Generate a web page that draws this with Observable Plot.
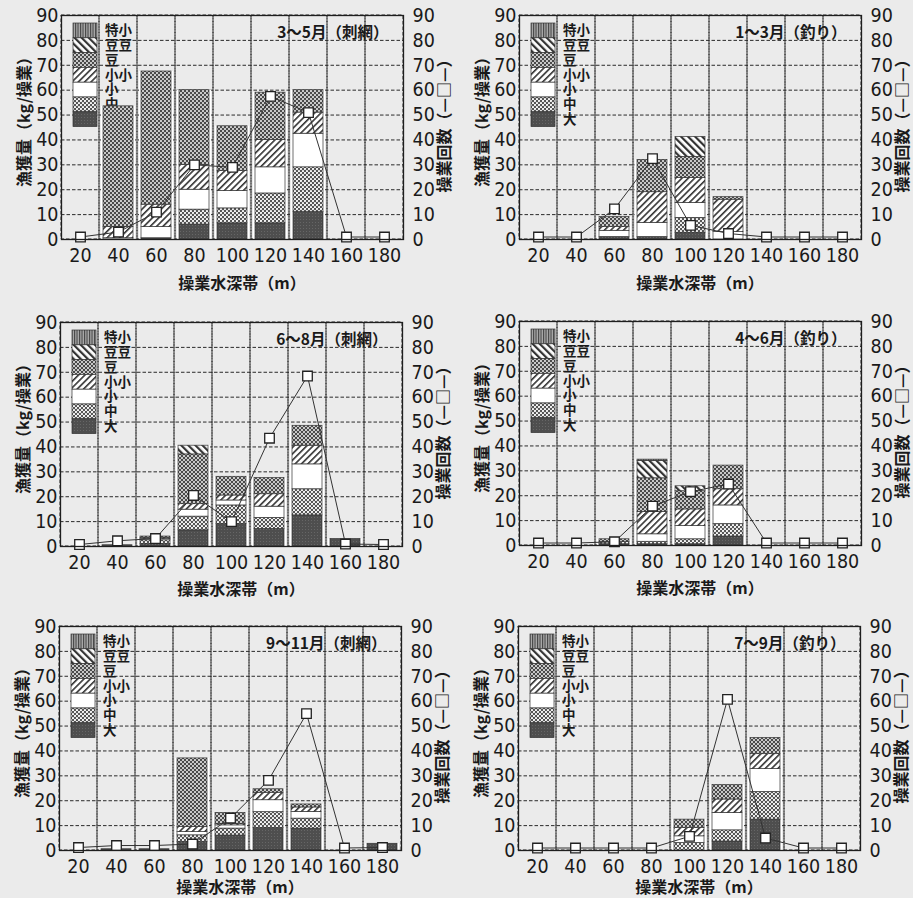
<!DOCTYPE html>
<html><head><meta charset="utf-8">
<script src="https://cdn.jsdelivr.net/npm/d3@7"></script>
<script src="https://cdn.jsdelivr.net/npm/@observablehq/plot@0.6"></script>
<style>
body{margin:0;background:#ebebeb;}
#root{position:relative;width:913px;height:898px;overflow:hidden;background:#ebebeb;}
.panel{position:absolute;width:455px;height:300px;}
.panel svg{position:absolute;left:0;top:0;overflow:visible;}
.t{position:absolute;font-family:'Noto Sans CJK JP',sans-serif;font-size:16px;font-weight:bold;color:#1a1a1a;white-space:nowrap;line-height:1;}
.ty{transform:translate(-50%,-50%) rotate(-90deg);}
.tx{transform:translate(-50%,-50%);}
</style></head>
<body>
<svg width="0" height="0" style="position:absolute">
<defs>
<pattern id="pDai" width="3" height="3" patternUnits="userSpaceOnUse"><rect width="3" height="3" fill="#4e4e4e"/><rect width="1" height="1" fill="#666"/></pattern>
<pattern id="pChu" width="4" height="4" patternUnits="userSpaceOnUse"><rect width="4" height="4" fill="#555"/><circle cx="1" cy="1" r="1.1" fill="#fff"/><circle cx="3" cy="3" r="1.1" fill="#fff"/></pattern>
<pattern id="pSho" width="4" height="4" patternUnits="userSpaceOnUse"><rect width="4" height="4" fill="#fff"/></pattern>
<pattern id="pShosho" width="4.5" height="4.5" patternUnits="userSpaceOnUse" patternTransform="rotate(45)"><rect width="4.5" height="4.5" fill="#fff"/><rect width="1.6" height="4.5" fill="#333"/></pattern>
<pattern id="pMame" width="4" height="4" patternUnits="userSpaceOnUse"><rect width="4" height="4" fill="#4a4a4a"/><circle cx="1" cy="1" r="0.95" fill="#fff"/><circle cx="3" cy="3" r="0.95" fill="#fff"/></pattern>
<pattern id="pMamemame" width="5" height="5" patternUnits="userSpaceOnUse" patternTransform="rotate(-45)"><rect width="5" height="5" fill="#fff"/><rect width="2.2" height="5" fill="#333"/></pattern>
<pattern id="pTokusho" width="2.5" height="4" patternUnits="userSpaceOnUse"><rect width="2.5" height="4" fill="#aaa"/><rect width="1.1" height="4" fill="#444"/></pattern>
</defs>
</svg>
<div id="root"></div>
<script>
// ---- data ----
const depths = [20, 40, 60, 80, 100, 120, 140, 160, 180];
const sizeClasses = ["大", "中", "小", "小小", "豆", "豆豆", "特小"];
const patternFills = ["url(#pDai)", "url(#pChu)", "url(#pSho)", "url(#pShosho)", "url(#pMame)", "url(#pMamemame)", "url(#pTokusho)"];
const yTicks = [0, 10, 20, 30, 40, 50, 60, 70, 80, 90];
const leftTitle = "漁獲量（kg/操業）";
const rightTitle = "操業回数（—□—）";
const xTitle = "操業水深帯（m）";
const panelTitles = ["3〜5月（刺網）", "1〜3月（釣り）", "6〜8月（刺網）", "4〜6月（釣り）", "9〜11月（刺網）", "7〜9月（釣り）"];

// catch per operation (kg), rows in sizeClasses order, columns in depths order
const net35 = [
  [0, 0, 0.5, 6, 6.5, 6.5, 11, 0, 0],
  [0, 0, 0, 6, 6, 12, 18, 0, 0],
  [0, 0.5, 4.5, 8, 7, 10.5, 13.5, 0, 0],
  [0, 4.5, 9, 10, 8, 11, 8.5, 0, 0],
  [0, 48.5, 53.5, 30, 18, 19, 9, 0, 0],
  [0, 0, 0, 0, 0, 0, 0, 0, 0],
  [0, 0, 0, 0, 0, 0, 0, 0, 0]
];
const net35Trips = [1, 3, 11, 30, 29, 57.5, 51, 1, 1];

const line13 = [
  [0, 0, 1, 1, 2.7, 0, 0, 0, 0],
  [0, 0, 0, 0, 6, 0, 0, 0, 0],
  [0, 0, 2.5, 5.7, 6, 3, 0, 0, 0],
  [0, 0, 1.5, 12.3, 10, 13, 0, 0, 0],
  [0, 0, 4, 13, 8.5, 1, 0, 0, 0],
  [0, 0, 0, 0, 8, 0, 0, 0, 0],
  [0, 0, 0, 0, 0, 0, 0, 0, 0]
];
const line13Trips = [1, 1, 12.3, 32.5, 5.7, 2.4, 1, 1, 1];

const net68 = [
  [0, 0.5, 1, 6.5, 9, 7, 12.5, 3, 0],
  [0, 0, 1.5, 5.5, 7.5, 4.5, 10.5, 0, 0],
  [0, 0, 0.5, 2.8, 2, 4.5, 10, 0, 0],
  [0, 0, 0.5, 2.2, 2, 5, 7.5, 0, 0],
  [0, 0, 0.5, 20, 7.5, 6.5, 8, 0, 0],
  [0, 0, 0, 3.5, 0, 0, 0, 0, 0],
  [0, 0, 0, 0, 0, 0, 0, 0, 0]
];
const net68Trips = [0.8, 2.3, 3.2, 20.5, 10, 43.5, 68.5, 1, 0.8];

const line46 = [
  [0, 0, 0.5, 0.5, 0.5, 3.6, 0, 0, 0],
  [0, 0, 1, 1, 2, 5, 0, 0, 0],
  [0, 0, 0, 3, 5.3, 7.5, 0, 0, 0],
  [0, 0, 0, 9, 6.7, 6.5, 0, 0, 0],
  [0, 0, 1, 13.5, 7.3, 9.5, 0, 0, 0],
  [0, 0, 0, 7, 2, 0, 0, 0, 0],
  [0, 0, 0, 0.5, 0, 0, 0, 0, 0]
];
const line46Trips = [1, 1, 1.5, 15.8, 21.6, 24.7, 1, 1, 1];

const net911 = [
  [0, 0.5, 0.5, 3.4, 6, 9, 8.8, 0, 2.7],
  [0, 0, 0, 2.7, 2.8, 6.4, 4, 0, 0],
  [0, 0, 0, 1.3, 1.3, 4.8, 2.7, 0, 0],
  [0, 0, 0, 2, 0.5, 3, 1.8, 0, 0],
  [0, 0, 0, 27.6, 4.5, 1.4, 1.2, 0, 0],
  [0, 0, 0, 0, 0, 0, 0, 0, 0],
  [0, 0, 0, 0, 0, 0, 0, 0, 0]
];
const net911Trips = [1.2, 2, 2, 2.6, 13, 28.2, 55, 1, 1.2];

const line79 = [
  [0, 0, 0, 0, 0, 3.6, 12.4, 0, 0],
  [0, 0, 0, 0, 3, 4.5, 11.1, 0, 0],
  [0, 0, 0, 0, 2.7, 7, 9.2, 0, 0],
  [0, 0, 0, 0, 3.3, 5.4, 6, 0, 0],
  [0, 0, 0, 0, 3.4, 5.8, 6.5, 0, 0],
  [0, 0, 0, 0, 0, 0, 0, 0, 0],
  [0, 0, 0, 0, 0, 0, 0, 0, 0]
];
const line79Trips = [1, 1, 1, 1, 5.7, 60.7, 5, 1, 1];

// ---- layout ----
const panels = [
  {title: panelTitles[0], catchData: net35, trips: net35Trips, left: 0, top: 0, xt: 282},
  {title: panelTitles[1], catchData: line13, trips: line13Trips, left: 458, top: 0, xt: 282},
  {title: panelTitles[2], catchData: net68, trips: net68Trips, left: -1, top: 307, xt: 281},
  {title: panelTitles[3], catchData: line46, trips: line46Trips, left: 458, top: 306, xt: 281},
  {title: panelTitles[4], catchData: net911, trips: net911Trips, left: -2, top: 611, xt: 275},
  {title: panelTitles[5], catchData: line79, trips: line79Trips, left: 457, top: 611, xt: 275}
];

const W = 455, H = 300, ML = 61, MR = 52, MT = 15, MB = 61;
const CJK = "'Noto Sans CJK JP', sans-serif";
const NUM = "'Liberation Sans Narrow', 'Arial Narrow', 'DejaVu Sans Condensed', 'Liberation Sans', sans-serif";
const root = document.getElementById("root");
const NS = "http://www.w3.org/2000/svg";
const hasAxisMarks = typeof Plot.axisY === "function";

function makePanel(cfg) {
  const rows = [];
  cfg.catchData.forEach((vals, ci) => vals.forEach((v, di) => {
    if (v > 0) rows.push({depth: depths[di], cat: sizeClasses[ci], value: v});
  }));
  const totals = depths.map((d, di) => ({depth: d, total: d3.sum(cfg.catchData, vals => vals[di])})).filter(d => d.total > 0);
  const trips = depths.map((d, di) => ({depth: d, trips: cfg.trips[di]}));

  const marks = [
    Plot.ruleY(yTicks, {stroke: "#2a2a2a", strokeDasharray: "3.5,2", strokeWidth: 1}),
    Plot.cell(depths, {x: d => d, fill: "none", stroke: "#2a2a2a", strokeDasharray: "3.5,2", strokeWidth: 1, inset: 0}),
    Plot.barY(totals, {x: "depth", y: "total", fill: "white", insetLeft: 2, insetRight: 2}),
    Plot.barY(rows, Plot.stackY({x: "depth", y: "value", fill: "cat", stroke: "#333", strokeWidth: 0.7, insetLeft: 4, insetRight: 4})),
    Plot.line(trips, {x: "depth", y: "trips", stroke: "#333", strokeWidth: 1}),
    Plot.dot(trips, {x: "depth", y: "trips", symbol: "square", r: 5.4, fill: "white", stroke: "#222", strokeWidth: 1.3}),
    Plot.frame({stroke: "#1e1e1e", strokeWidth: 1.3}),
    Plot.text([cfg.title], {text: d => d, frameAnchor: "top-right", dx: -15, dy: 18, lineAnchor: "middle", textAnchor: "end", fontSize: 15.5, fontWeight: "bold", fontFamily: CJK, fill: "#1a1a1a"})
  ];
  const opts = {
    width: W, height: H,
    marginLeft: ML, marginRight: MR, marginTop: MT, marginBottom: MB,
    x: {type: "band", domain: depths, padding: 0},
    y: {domain: [0, 90]},
    color: {type: "ordinal", domain: sizeClasses, range: patternFills},
    style: {background: "transparent", fontSize: "19.5px", fontFamily: NUM, color: "#1a1a1a"},
    marks
  };
  if (hasAxisMarks) {
    marks.push(
      Plot.axisY({ticks: yTicks, anchor: "left", tickSize: 0, tickPadding: 3, label: null}),
      Plot.axisY({ticks: yTicks, anchor: "right", tickSize: 0, tickPadding: 9, label: null}),
      Plot.axisX({tickSize: 0, tickPadding: 9, label: null})
    );
  } else {
    opts.x = {...opts.x, tickSize: 0, tickPadding: 9, label: null};
    opts.y = {...opts.y, axis: "both", ticks: yTicks, tickSize: 0, tickPadding: 5, label: null};
  }
  const svg = Plot.plot(opts);

  // legend (drawn beneath the bars)
  const lg = document.createElementNS(NS, "g");
  lg.setAttribute("text-anchor", "start");
  const order = sizeClasses.map((c, i) => ({c, f: patternFills[i]})).reverse();
  const ph = 14.8;
  order.forEach((o, i) => {
    const r = document.createElementNS(NS, "rect");
    r.setAttribute("x", ML + 12); r.setAttribute("y", MT + 8 + i * ph);
    r.setAttribute("width", 24); r.setAttribute("height", ph);
    r.setAttribute("fill", o.f); r.setAttribute("stroke", "#333"); r.setAttribute("stroke-width", 0.7);
    lg.appendChild(r);
    const t = document.createElementNS(NS, "text");
    t.setAttribute("x", ML + 44); t.setAttribute("y", MT + 8 + i * ph + ph / 2);
    t.setAttribute("dy", "0.35em");
    t.setAttribute("text-anchor", "start");
    t.setAttribute("font-family", CJK); t.setAttribute("font-size", 13.5); t.setAttribute("font-weight", "bold"); t.setAttribute("fill", "#1a1a1a");
    t.textContent = o.c;
    lg.appendChild(t);
  });
  const firstBar = svg.querySelector('g[aria-label="bar"]');
  if (firstBar) firstBar.parentNode.insertBefore(lg, firstBar); else svg.appendChild(lg);

  const div = document.createElement("div");
  div.className = "panel";
  div.style.left = cfg.left + "px"; div.style.top = cfg.top + "px";
  div.appendChild(svg);
  const addT = (text, cls, x, y) => {
    const s = document.createElement("div");
    s.className = "t " + cls; s.textContent = text;
    s.style.left = x + "px"; s.style.top = y + "px";
    div.appendChild(s);
  };
  addT(leftTitle, "ty", 23, 118);
  addT(rightTitle, "ty", 443, 122);
  addT(xTitle, "tx", 242, cfg.xt);
  root.appendChild(div);
}
panels.forEach(makePanel);
</script>
</body></html>
